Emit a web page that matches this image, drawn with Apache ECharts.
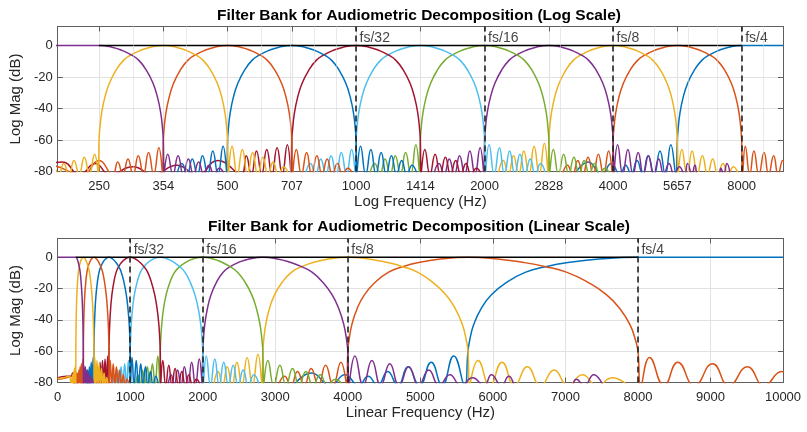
<!DOCTYPE html>
<html><head><meta charset="utf-8">
<script src="https://cdn.jsdelivr.net/npm/echarts@6/dist/echarts.min.js"></script>
<style>html,body{margin:0;padding:0;background:#fff}#c{width:807px;height:432px}</style>
</head><body><div id="c"></div>
<script>
const FONT = '"Liberation Sans", Arial, Helvetica, sans-serif';

// tick labels / annotations
const logTicks = [250, 353.553, 500, 707.107, 1000, 1414.214, 2000, 2828.427, 4000, 5656.854, 8000];
const minorLogGrid = [300, 400, 600, 700, 800, 900, 3000, 5000, 6000, 7000, 9000];
const fsFreqs = [1000, 2000, 4000, 8000];
const fsLabels = ['fs/32', 'fs/16', 'fs/8', 'fs/4'];
const titles = ['Filter Bank for Audiometric Decomposition (Log Scale)', 'Filter Bank for Audiometric Decomposition (Linear Scale)'];
const xNames = ['Log Frequency (Hz)', 'Linear Frequency (Hz)'];

// filter responses [Hz, dB] (nulls sit just below the -80 floor)
const hpBlue = [[3250,-82],[3500,-74],[3760,-82],[3960,-75],[4150,-82],[4280,-76],[4410,-82],[4550,-73],[4690,-82],[4830,-70],[4990,-82],[5150,-67],[5300,-82],[5460,-63],[5610,-82],[5656.9,-60],[5680.4,-53],[5735.8,-43],[5836.1,-33],[5979.4,-24],[6190.3,-16],[6453.1,-9.5],[6727.2,-6],[7061.6,-3.2],[7464.3,-1.1],[8000,0],[10000,0]];
const bandI = [[3042,-82],[3127.6,-76],[3215.6,-82],[3306,-73],[3398.8,-82],[3494.4,-71],[3592.4,-82],[3693.6,-69],[3797.2,-82],[3904,-67],[3986,-82],[4000,-60],[4016.7,-53],[4055.8,-43],[4126.7,-33],[4228.1,-24],[4377.2,-16],[4563.1,-9.5],[4756.8,-6],[4993.3,-3.2],[5278,-1.1],[5656.9,0],[6062.9,-1.1],[6408.6,-3.2],[6727.2,-6],[7012.8,-9.5],[7310.7,-16],[7568.5,-24],[7754.3,-33],[7889.9,-43],[7966.8,-53],[8000,-60],[8040,-82],[8160,-64],[8360,-82],[8550,-67],[8780,-82],[9030,-68],[9255,-82],[9510,-70],[9740,-82],[9980,-73],[10200,-82]];
const bandH = [[2151,-82],[2211.6,-73],[2273.8,-82],[2337.7,-70],[2403.3,-82],[2470.9,-67],[2540.2,-82],[2611.8,-64],[2685,-82],[2760.5,-62],[2818.5,-82],[2828.4,-60],[2840.2,-53],[2868,-43],[2918,-33],[2989.7,-24],[3095.1,-16],[3226.6,-9.5],[3363.6,-6],[3530.8,-3.2],[3732.1,-1.1],[4000,0],[4287.1,-1.1],[4531.5,-3.2],[4756.8,-6],[4958.8,-9.5],[5169.4,-16],[5351.7,-24],[5483.1,-33],[5579,-43],[5633.4,-53],[5656.9,-60],[5676.6,-82],[5796,-66],[5959,-82],[6126.4,-67],[6298.4,-82],[6475.4,-70],[6657.5,-82],[6844.8,-72],[7037.1,-82],[7235.1,-75],[7438.3,-82],[7647.4,-77],[7862.4,-82]];
const bandG = [[1521,-82],[1563.8,-75],[1607.8,-82],[1653,-72],[1699.4,-82],[1747.2,-70],[1796.2,-82],[1846.8,-67],[1898.6,-82],[1952,-65],[1993,-82],[2000,-60],[2008.3,-53],[2027.9,-43],[2063.4,-33],[2114,-24],[2188.6,-16],[2281.5,-9.5],[2378.4,-6],[2496.7,-3.2],[2639,-1.1],[2828.4,0],[3031.4,-1.1],[3204.3,-3.2],[3363.6,-6],[3506.4,-9.5],[3655.3,-16],[3784.2,-24],[3877.2,-33],[3944.9,-43],[3983.4,-53],[4000,-60],[4014,-82],[4098.4,-63],[4213.6,-82],[4332,-66],[4453.6,-82],[4578.8,-68],[4707.6,-82],[4840,-70],[4976,-82],[5116,-72],[5259.6,-82],[5407.6,-75],[5559.6,-82],[5720,-77],[5880,-82],[5980,-75],[6120,-82],[6220,-76],[6350,-83],[7060,-83],[7150,-78],[7260,-82],[7390,-75],[7520,-82]];
const bandF = [[1075.5,-82],[1105.8,-75],[1136.9,-82],[1168.9,-72],[1201.7,-82],[1235.5,-70],[1270.1,-82],[1305.9,-68],[1342.5,-82],[1380.3,-63],[1409.3,-82],[1414.2,-60],[1420.1,-53],[1434,-43],[1459,-33],[1494.8,-24],[1547.6,-16],[1613.3,-9.5],[1681.8,-6],[1765.4,-3.2],[1866.1,-1.1],[2000,0],[2143.6,-1.1],[2265.8,-3.2],[2378.4,-6],[2479.4,-9.5],[2584.7,-16],[2675.9,-24],[2741.6,-33],[2789.5,-43],[2816.7,-53],[2828.4,-60],[2838.3,-82],[2898,-66],[2979.5,-82],[3063.2,-69],[3149.2,-82],[3237.7,-71],[3328.8,-82],[3422.4,-73],[3518.6,-82],[3617.6,-75],[3719.2,-82],[3823.7,-78],[3931.2,-82]];
const bandE = [[760.5,-82],[781.9,-75],[803.9,-82],[826.5,-72],[849.7,-82],[873.6,-70],[898.1,-82],[923.4,-68],[949.3,-82],[976,-66],[996.5,-82],[1000,-60],[1004.2,-53],[1014,-43],[1031.7,-33],[1057,-24],[1094.3,-16],[1140.8,-9.5],[1189.2,-6],[1248.3,-3.2],[1319.5,-1.1],[1414.2,0],[1515.7,-1.1],[1602.1,-3.2],[1681.8,-6],[1753.2,-9.5],[1827.7,-16],[1892.1,-24],[1938.6,-33],[1972.5,-43],[1991.7,-53],[2000,-60],[2007,-82],[2049.2,-63],[2106.8,-82],[2166,-65],[2226.8,-82],[2289.4,-67],[2353.8,-82],[2420,-69],[2488,-82],[2558,-72],[2629.8,-82],[2703.8,-75],[2779.8,-82]];
const bandD = [[1,-77],[120,-76],[180,-76],[205,-74],[225,-82],[245,-75],[265,-82],[300,-77],[335,-82],[380,-76],[425,-82],[475,-73],[537.8,-82],[552.9,-70],[568.4,-82],[584.4,-67],[600.8,-82],[617.7,-66],[635.1,-82],[653,-65],[671.3,-82],[690.1,-63],[704.6,-82],[707.1,-60],[710.1,-53],[717,-43],[729.5,-33],[747.4,-24],[773.8,-16],[806.6,-9.5],[840.9,-6],[882.7,-3.2],[933,-1.1],[1000,0],[1071.8,-1.1],[1132.9,-3.2],[1189.2,-6],[1239.7,-9.5],[1292.4,-16],[1337.9,-24],[1370.8,-33],[1394.7,-43],[1408.3,-53],[1414.2,-60],[1419.2,-82],[1449,-66],[1489.8,-82],[1531.6,-69],[1574.6,-82],[1618.9,-71],[1664.4,-82],[1711.2,-73],[1759.3,-82],[1808.8,-75],[1859.6,-82],[1911.9,-78],[1965.6,-82]];
const bandC = [[380.3,-82],[391,-75],[402,-82],[413.3,-72],[424.9,-82],[436.8,-70],[449.1,-82],[461.7,-67],[474.7,-82],[488,-64],[498.3,-82],[500,-60],[502.1,-53],[507,-43],[515.8,-33],[528.5,-24],[547.1,-16],[570.4,-9.5],[594.6,-6],[624.2,-3.2],[659.8,-1.1],[707.1,0],[757.9,-1.1],[801.1,-3.2],[840.9,-6],[876.6,-9.5],[913.8,-16],[946.1,-24],[969.3,-33],[986.2,-43],[995.9,-53],[1000,-60],[1003.5,-82],[1024.6,-64],[1053.4,-82],[1083,-66],[1113.4,-82],[1144.7,-68],[1176.9,-82],[1210,-70],[1244,-82],[1279,-73],[1314.9,-82],[1351.9,-76],[1389.9,-82]];
const bandB = [[1,-78],[120,-77],[190,-76],[228,-82],[250,-73],[268.9,-82],[276.4,-74],[284.2,-82],[292.2,-72],[300.4,-82],[308.9,-70],[317.5,-82],[326.5,-68],[335.6,-82],[345.1,-65],[352.3,-82],[353.6,-60],[355,-53],[358.5,-43],[364.8,-33],[373.7,-24],[386.9,-16],[403.3,-9.5],[420.4,-6],[441.3,-3.2],[466.5,-1.1],[500,0],[535.9,-1.1],[566.4,-3.2],[594.6,-6],[619.8,-9.5],[646.2,-16],[669,-24],[685.4,-33],[697.4,-43],[704.2,-53],[707.1,-60],[709.6,-82],[724.5,-66],[744.9,-82],[765.8,-68],[787.3,-82],[809.4,-70],[832.2,-82],[855.6,-72],[879.6,-82],[904.4,-75],[929.8,-82],[955.9,-78],[982.8,-82]];
const bandA = [[1,-77.5],[90,-77],[150,-76],[180,-79],[190.1,-82],[195.5,-77],[201,-82],[206.6,-75],[212.4,-82],[218.4,-73],[224.5,-82],[230.9,-71],[237.3,-82],[244,-69],[249.1,-82],[250,-60],[251,-53],[253.5,-43],[257.9,-33],[264.3,-24],[273.6,-16],[285.2,-9.5],[297.3,-6],[312.1,-3.2],[329.9,-1.1],[353.6,0],[378.9,-1.1],[400.5,-3.2],[420.4,-6],[438.3,-9.5],[456.9,-16],[473,-24],[484.6,-33],[493.1,-43],[497.9,-53],[500,-60],[501.8,-82],[512.3,-64],[526.7,-82],[541.5,-66],[556.7,-82],[572.4,-68],[588.5,-82],[605,-71],[622,-82],[639.5,-74],[657.5,-82],[676,-77],[695,-82]];
const lpPurple = [[1,0],[200,0],[250,0],[268,-1.1],[283.2,-3.2],[297.3,-6],[309.9,-9.5],[323.1,-16],[334.5,-24],[342.7,-33],[348.7,-43],[352.1,-53],[353.6,-60],[354.8,-82],[362.2,-69],[372.4,-82],[382.9,-70],[393.6,-82],[404.7,-72],[416.1,-82],[427.8,-74],[439.8,-82],[452.2,-76],[464.9,-82],[478,-78],[491.4,-82]];
const sumLine = [[250,0],[8000,0]];

const filterList = [hpBlue, bandI, bandH, bandG, bandF, bandE, bandD, bandC, bandB, bandA, lpPurple];
const filterColors = ['#0072BD','#D95319','#EDB120','#7E2F8E','#77AC30','#4DBEEE','#A2142F','#0072BD','#D95319','#EDB120','#7E2F8E'];

const AX = '#5f5f5f', TXT = '#262626', GRIDC = '#e2e2e2';
const gridTops = [26.5, 238.5], gridHeights = [145, 144];

function xAxisFor(g, top) {
  const base = {
    gridIndex: g, position: top ? 'top' : 'bottom',
    name: top ? '' : xNames[g], nameLocation: 'middle', nameGap: 23,
    nameTextStyle: {fontSize: 15, color: TXT, fontFamily: FONT},
    axisLine: {show: true, onZero: false, lineStyle: {color: AX, width: 1}},
    axisTick: {show: true, inside: true, length: 5, lineStyle: {color: AX}},
    axisLabel: {show: !top, margin: 8, fontSize: 13, color: TXT, fontFamily: FONT},
    splitLine: {show: !top, lineStyle: {color: GRIDC, width: 1}}
  };
  if (g === 0) {
    base.type = 'log'; base.logBase = 2; base.min = 200; base.max = 10000;
    base.axisTick.customValues = logTicks;
    base.axisLabel.customValues = logTicks;
    base.axisLabel.formatter = v => String(Math.round(v));
  } else {
    base.type = 'value'; base.min = 0; base.max = 10000; base.interval = 1000;
    base.axisLabel.formatter = v => String(v);
  }
  return base;
}
function yAxisFor(g, right) {
  return {
    type: 'value', gridIndex: g, min: -80, max: 12, interval: 20,
    position: right ? 'right' : 'left',
    name: right ? '' : 'Log Mag (dB)', nameLocation: 'middle', nameGap: 30,
    nameTextStyle: {fontSize: 15, color: TXT, fontFamily: FONT},
    axisLine: {show: true, onZero: false, lineStyle: {color: AX, width: 1}},
    axisTick: {show: true, inside: true, length: 5, lineStyle: {color: AX}},
    axisLabel: {show: !right, showMaxLabel: false, margin: 5, fontSize: 13, color: TXT, fontFamily: FONT},
    splitLine: {show: !right, lineStyle: {color: GRIDC, width: 1}}
  };
}

const series = [];
[0, 1].forEach(g => {
  if (g === 0) {
    series.push({
      type: 'line', xAxisIndex: 0, yAxisIndex: 0, data: [], z: 1, silent: true,
      markLine: {silent: true, symbol: ['none', 'none'], label: {show: false}, animation: false,
        lineStyle: {type: 'dotted', color: '#d4d4d4', width: 1},
        data: minorLogGrid.map(v => ({xAxis: v}))}
    });
  }
  filterList.forEach((d, i) => {
    series.push({
      type: 'line', xAxisIndex: g, yAxisIndex: g, data: d, showSymbol: false, symbol: 'none',
      smooth: 0.5, clip: true, silent: true,
      lineStyle: {color: filterColors[i], width: 1.5}
    });
  });
  series.push({
    type: 'line', xAxisIndex: g, yAxisIndex: g, data: sumLine, showSymbol: false, symbol: 'none',
    clip: true, silent: true, lineStyle: {color: '#000', width: 1.5}
  });
  series.push({
    type: 'scatter', xAxisIndex: g, yAxisIndex: g, silent: true, symbolSize: 1,
    itemStyle: {color: 'rgba(0,0,0,0)'},
    data: fsFreqs.map(f => [f, 4.5]),
    label: {show: true, position: 'right', distance: 3, formatter: p => fsLabels[p.dataIndex],
      fontSize: 14, color: '#111', fontFamily: FONT},
    markLine: {silent: true, symbol: ['none', 'none'], label: {show: false}, animation: false,
      lineStyle: {type: [6, 4], color: '#222', width: 1.6},
      data: fsFreqs.map(f => ({xAxis: f}))}
  });
});

const option = {
  animation: false,
  backgroundColor: '#fff',
  title: titles.map((t, g) => ({
    text: t, left: 419, top: g === 0 ? 7.5 : 219, textAlign: 'center', padding: 0,
    textStyle: {fontSize: 15.5, fontWeight: 'bold', color: '#000', fontFamily: FONT}
  })),
  grid: [0, 1].map(g => ({left: 55, top: gridTops[g], width: 728, height: gridHeights[g], containLabel: false})),
  xAxis: [xAxisFor(0, false), xAxisFor(1, false), xAxisFor(0, true), xAxisFor(1, true)],
  yAxis: [yAxisFor(0, false), yAxisFor(1, false), yAxisFor(0, true), yAxisFor(1, true)],
  series: series
};
const chart = echarts.init(document.getElementById('c'), null, {renderer: 'canvas'});
chart.setOption(option);
</script></body></html>
